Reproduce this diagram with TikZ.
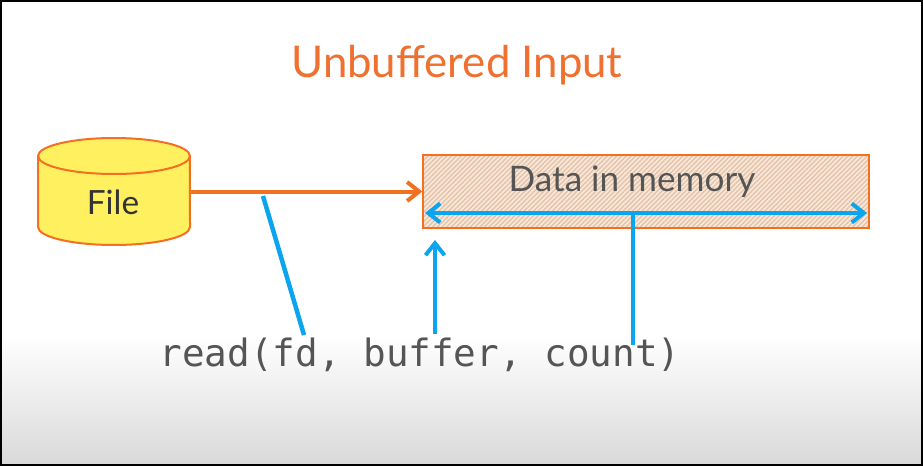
\documentclass[tikz,border=0pt]{standalone}
\usepackage{fontspec}
\usepackage{xcolor}
\setmainfont{Lato}
\setmonofont{DejaVu Sans Mono}
\usetikzlibrary{arrows.meta,patterns.meta}
\definecolor{titleorange}{HTML}{F07030}
\definecolor{lineorange}{HTML}{F36F21}
\definecolor{lineblue}{HTML}{0AA5EE}
\definecolor{cylyellow}{HTML}{FFF05F}
\definecolor{textgrey}{HTML}{555555}
\definecolor{hatchback}{HTML}{F7E8DC}
\definecolor{hatchline}{HTML}{E6C3A6}
\tikzset{
  orangeline/.style={draw=lineorange,line width=0.08cm},
  blueline/.style={draw=lineblue,line width=0.09cm},
  cylline/.style={draw=lineorange,line width=0.04cm},
}
\begin{document}
\begin{tikzpicture}[x=0.02cm,y=-0.02cm,>={Straight Barb[length=0.24cm,width=0.38cm,line width=0.08cm]}]
\useasboundingbox (0,0) rectangle (923,466);

% page background, fades to grey near the bottom
\fill[white] (0,0) rectangle (923,466);
\shade[top color=white,bottom color=black!15] (0,335) rectangle (923,466);
\draw[black,line width=0.04cm] (1,1) rectangle (922,465);

% title
\node (title) at (457,65) {\fontsize{24.9pt}{30pt}\selectfont\color{titleorange}Unbuffered Input};

% file cylinder
\draw[cylline,fill=cylyellow] (38,156) arc[start angle=180,end angle=0,x radius=1.52cm,y radius=0.36cm]
  -- (190,227) arc[start angle=0,end angle=-180,x radius=1.52cm,y radius=0.36cm] -- cycle;
\draw[cylline] (38,156) arc[start angle=180,end angle=360,x radius=1.52cm,y radius=0.36cm];
\node[minimum width=3.04cm,minimum height=2.14cm,inner sep=0pt] (file) at (114,191.5) {};
\node (filetext) at (113,202) {\fontsize{19pt}{23pt}\selectfont\color{black!80}File};

% memory box
\node[draw=lineorange,line width=0.05cm,preaction={fill=hatchback},
  pattern={Lines[angle=45,distance=1.9pt,line width=0.8pt]},pattern color=hatchline,
  minimum width=8.92cm,minimum height=1.46cm,inner sep=0pt] (memory) at (646,191.5) {};
\node (memorytext) at (632,182) {\fontsize{20pt}{24pt}\selectfont\color{textgrey}Data in memory};

% call at the bottom
\node (call) at (420,355) {\fontsize{21.4pt}{25pt}\selectfont\ttfamily\color{textgrey}read(fd, buffer, count)};

% free ends of the connectors
\coordinate (fdtop) at (263,196);
\coordinate (fdend) at (304,335);
\coordinate (buftop) at (435,240);
\coordinate (bufend) at (435,334);
\coordinate (cntend) at (633,345);
\coordinate (memleft) at (425,213);
\coordinate (memright) at (867,213);
\coordinate (cnttop) at (633,213);

% connectors
\draw[orangeline,->] (file.east) -- (memory.west);
\draw[blueline] (fdend) -- (fdtop);
\draw[blueline,->] (bufend) -- (buftop);
\draw[blueline] (cntend) -- (cnttop);
\draw[blueline,<->] (memleft) -- (memright);

\end{tikzpicture}
\end{document}
